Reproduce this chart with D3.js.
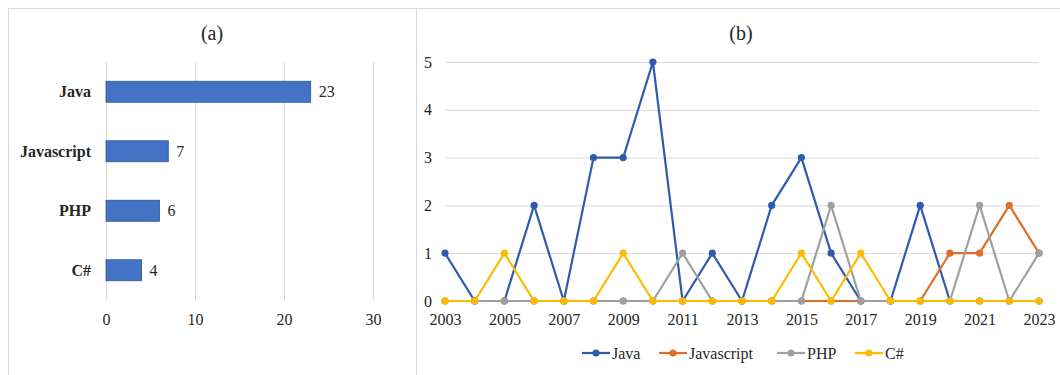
<!DOCTYPE html>
<html>
<head>
<meta charset="utf-8">
<script src="https://cdn.jsdelivr.net/npm/d3@7"></script>
<style>
  html, body { margin: 0; padding: 0; background: #fff; }
  svg text { font-family: "Liberation Serif", "Times New Roman", Times, "DejaVu Serif", serif !important; }
</style>
</head>
<body>
<svg id="chart" width="1060" height="375"></svg>
<script>
// Panel (a): total counts per language
const languages = ["Java", "Javascript", "PHP", "C#"];
const totals = [23, 7, 6, 4];
const totalTicks = [0, 10, 20, 30];

// Panel (b): yearly counts per language
const years = [2003, 2004, 2005, 2006, 2007, 2008, 2009, 2010, 2011, 2012, 2013,
               2014, 2015, 2016, 2017, 2018, 2019, 2020, 2021, 2022, 2023];
const javaByYear       = [1, 0, 0, 2, 0, 3, 3, 5, 0, 1, 0, 2, 3, 1, 0, 0, 2, 0, 0, 0, 0];
const javascriptByYear = [0, 0, 0, 0, 0, 0, 0, 0, 0, 0, 0, 0, 0, 0, 0, 0, 0, 1, 1, 2, 1];
const phpByYear        = [0, 0, 0, 0, 0, 0, 0, 0, 1, 0, 0, 0, 0, 2, 0, 0, 0, 0, 2, 0, 1];
const csharpByYear     = [0, 0, 1, 0, 0, 0, 1, 0, 0, 0, 0, 0, 1, 0, 1, 0, 0, 0, 0, 0, 0];
const yearTicks = [2003, 2005, 2007, 2009, 2011, 2013, 2015, 2017, 2019, 2021, 2023];
const countTicks = [0, 1, 2, 3, 4, 5];

const series = [
  { name: "Java", values: javaByYear, color: "#2F5BAE" },
  { name: "Javascript", values: javascriptByYear, color: "#DE6E2A" },
  { name: "PHP", values: phpByYear, color: "#A0A0A0" },
  { name: "C#", values: csharpByYear, color: "#FDBB00" }
];

const svg = d3.select("#chart");
const gridColor = "#d9d9d9";
const textColor = "#262626";

// Frames around the two panels
svg.append("line").attr("x1", 8).attr("x2", 1060).attr("y1", 8.5).attr("y2", 8.5)
  .attr("stroke", gridColor);
svg.append("line").attr("x1", 8.5).attr("x2", 8.5).attr("y1", 8).attr("y2", 375)
  .attr("stroke", gridColor);
svg.append("line").attr("x1", 416.5).attr("x2", 416.5).attr("y1", 8).attr("y2", 375)
  .attr("stroke", gridColor);

// ---------- Panel (a): horizontal bars ----------
const a = svg.append("g");
const xA = d3.scaleLinear().domain([0, 30]).range([106, 373]);
const yA = d3.scaleBand().domain(languages).range([62, 300])
  .paddingInner(0.647).paddingOuter(0.3235);

a.append("text").attr("x", 212).attr("y", 33).attr("text-anchor", "middle")
  .attr("dominant-baseline", "central").attr("font-size", 20).attr("fill", textColor)
  .text("(a)");

a.append("g").attr("transform", `translate(0,300)`)
  .call(d3.axisBottom(xA).tickValues(totalTicks).tickSize(-238).tickPadding(14))
  .call(g => g.select(".domain").remove())
  .call(g => g.selectAll(".tick line").attr("stroke", gridColor))
  .call(g => g.selectAll(".tick text").attr("font-size", 16).attr("fill", textColor));

a.selectAll("rect.bar").data(languages).join("rect").attr("class", "bar")
  .attr("x", xA(0))
  .attr("y", d => yA(d))
  .attr("width", (d, i) => xA(totals[i]) - xA(0))
  .attr("height", yA.bandwidth())
  .attr("fill", "#4472C4").attr("stroke", "#2F5597").attr("stroke-width", 0.8);

a.selectAll("text.cat").data(languages).join("text").attr("class", "cat")
  .attr("x", 91).attr("y", d => yA(d) + yA.bandwidth() / 2)
  .attr("text-anchor", "end").attr("dominant-baseline", "central")
  .attr("font-size", 16).attr("font-weight", "bold").attr("fill", textColor)
  .text(d => d);

a.selectAll("text.val").data(languages).join("text").attr("class", "val")
  .attr("x", (d, i) => xA(totals[i]) + 8).attr("y", d => yA(d) + yA.bandwidth() / 2)
  .attr("dominant-baseline", "central")
  .attr("font-size", 16).attr("fill", textColor)
  .text((d, i) => totals[i]);

// ---------- Panel (b): yearly lines ----------
const b = svg.append("g");
const xB = d3.scaleLinear().domain([2003, 2023]).range([445, 1039]);
const yB = d3.scaleLinear().domain([0, 5]).range([301, 62]);

b.append("text").attr("x", 741).attr("y", 33).attr("text-anchor", "middle")
  .attr("dominant-baseline", "central").attr("font-size", 20).attr("fill", textColor)
  .text("(b)");

b.append("g").attr("transform", `translate(445,0)`)
  .call(d3.axisLeft(yB).tickValues(countTicks).tickSize(-594).tickPadding(13)
    .tickFormat(d3.format("d")))
  .call(g => g.select(".domain").remove())
  .call(g => g.selectAll(".tick line").attr("stroke", gridColor))
  .call(g => g.selectAll(".tick text").attr("font-size", 16).attr("fill", textColor));

b.append("g").attr("transform", `translate(0,301)`)
  .call(d3.axisBottom(xB).tickValues(yearTicks).tickSize(0).tickPadding(13)
    .tickFormat(d3.format("d")))
  .call(g => g.select(".domain").remove())
  .call(g => g.selectAll(".tick text").attr("font-size", 16).attr("fill", textColor));

const line = d3.line().x((d, i) => xB(years[i])).y(d => yB(d));

series.forEach(s => {
  const g = b.append("g");
  g.append("path").datum(s.values).attr("d", line)
    .attr("fill", "none").attr("stroke", s.color).attr("stroke-width", 2.2)
    .attr("stroke-linejoin", "round");
  g.selectAll("circle").data(s.values).join("circle")
    .attr("cx", (d, i) => xB(years[i])).attr("cy", d => yB(d)).attr("r", 3.6)
    .attr("fill", s.color);
});

// Legend
const legendX = [582, 659, 777, 855];
const legend = b.append("g");
series.forEach((s, i) => {
  const lg = legend.append("g").attr("transform", `translate(${legendX[i]},353)`);
  lg.append("line").attr("x1", 0).attr("x2", 28).attr("stroke", s.color).attr("stroke-width", 2.2);
  lg.append("circle").attr("cx", 14).attr("r", 3.6).attr("fill", s.color);
  lg.append("text").attr("x", 30).attr("dominant-baseline", "central")
    .attr("font-size", 16).attr("fill", textColor).text(s.name);
});
</script>
</body>
</html>
